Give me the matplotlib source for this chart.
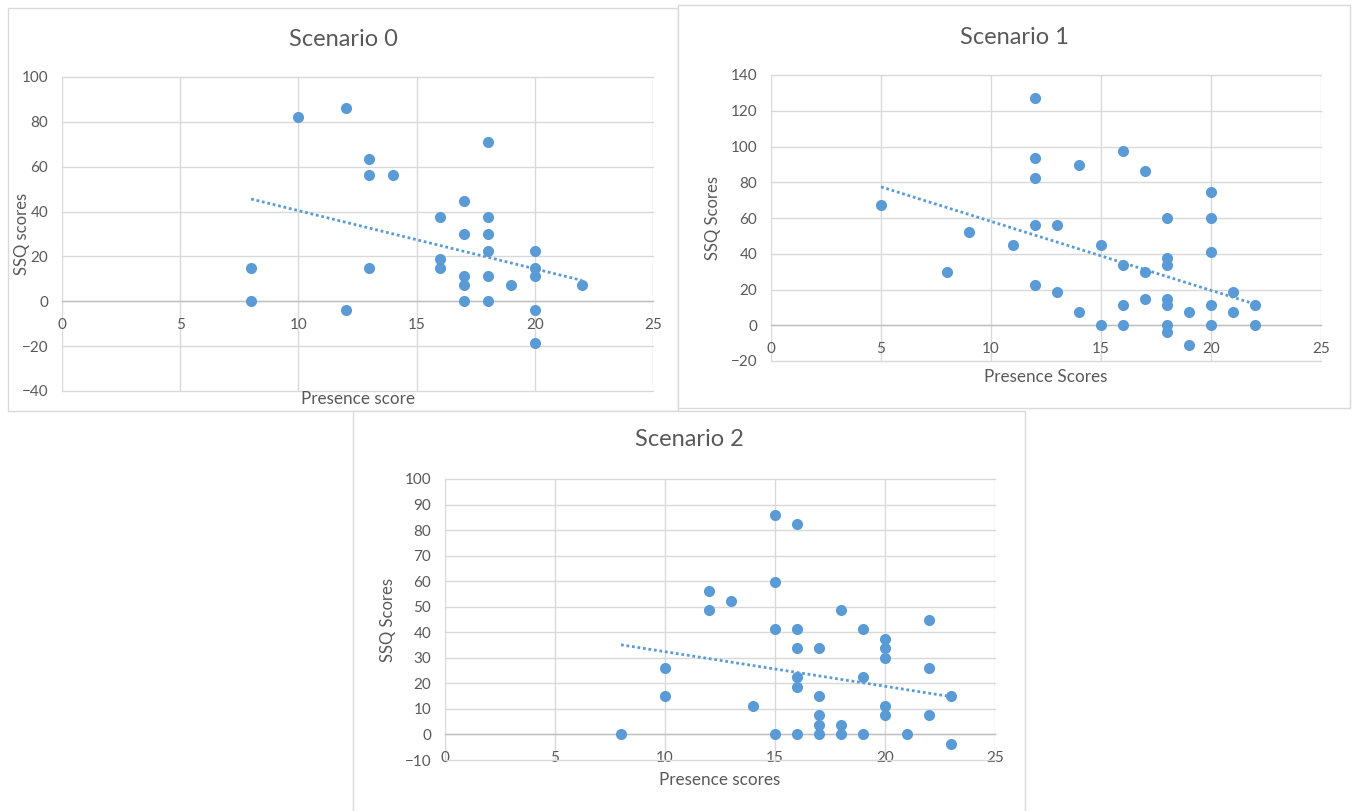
import numpy as np
import matplotlib
matplotlib.use("Agg")
import matplotlib.pyplot as plt
from matplotlib.patches import Rectangle

plt.rcParams['font.family'] = ['Lato', 'DejaVu Sans']

# ---------------- data ----------------
s0_x = [8, 8, 10, 12, 12, 13, 13, 13, 14, 16, 16, 16, 17, 17, 17, 17, 17,
        18, 18, 18, 18, 18, 18, 19, 20, 20, 20, 20, 20, 22]
s0_y = [14.96, 0, 82.28, 86.02, -3.74, 63.58, 56.1, 14.96, 56.1, 37.4, 18.7, 14.96,
        44.88, 29.92, 11.22, 7.48, 0, 71.06, 37.4, 29.92, 22.44, 11.22, 0, 7.48,
        22.44, 14.96, 11.22, -3.74, -18.7, 7.48]

s1_x = [5, 8, 9, 11, 12, 12, 12, 12, 12, 13, 13, 14, 14, 15, 15, 16, 16, 16, 16,
        17, 17, 17, 18, 18, 18, 18, 18, 18, 18, 19, 19, 20, 20, 20, 20, 20,
        21, 21, 22, 22]
s1_y = [67.32, 29.92, 52.36, 44.88, 127.16, 93.5, 82.28, 56.1, 22.44, 56.1, 18.7,
        89.76, 7.48, 44.88, 0, 97.24, 33.66, 11.22, 0, 86.02, 29.92, 14.96,
        59.84, 37.4, 33.66, 14.96, 11.22, 0, -3.74, 7.48, -11.22,
        74.8, 59.84, 41.14, 11.22, 0, 18.7, 7.48, 11.22, 0]

s2_x = [8, 10, 10, 12, 12, 13, 14, 15, 15, 15, 15, 16, 16, 16, 16, 16, 16,
        17, 17, 17, 17, 17, 18, 18, 18, 19, 19, 19, 20, 20, 20, 20, 20,
        21, 22, 22, 22, 23, 23]
s2_y = [0, 26.18, 14.96, 56.1, 48.62, 52.36, 11.22, 86.02, 59.84, 41.14, 0,
        82.28, 41.14, 33.66, 22.44, 18.7, 0, 33.66, 14.96, 7.48, 3.74, 0,
        48.62, 3.74, 0, 41.14, 22.44, 0, 37.4, 33.66, 29.92, 11.22, 7.48,
        0, 44.88, 26.18, 7.48, 14.96, -3.74]

# linear trend lines (start / end)
s0_trend_x = [8, 22]
s0_trend_y = [45.6, 9.3]
s1_trend_x = [5, 22]
s1_trend_y = [77.4, 11.8]
s2_trend_x = [8, 23]
s2_trend_y = [35.1, 14.8]

titles = ["Scenario 0", "Scenario 1", "Scenario 2"]
xlabels = ["Presence score", "Presence Scores", "Presence scores"]
ylabels = ["SSQ scores", "SSQ Scores", "SSQ Scores"]
x_ticks = [0, 5, 10, 15, 20, 25]
y_ticks = [list(range(-40, 101, 20)), list(range(-20, 141, 20)), list(range(-10, 101, 10))]

# ---------------- layout ----------------
W, H = 1357, 811
fig = plt.figure(figsize=(W / 100, H / 100), dpi=100)
fig.patch.set_facecolor('white')

def fx(px):
    return px / W

def fy(py):
    return 1 - py / H

# panel containers (left, top, right, bottom) in pixels
containers = [(8, 8, 678, 411), (678, 5, 1350, 408), (353, 411, 1025, 812)]
# plot areas (left, top, right, bottom) in pixels
plots = [(62, 77, 653, 391), (771, 75, 1321, 361), (445, 479, 995, 760)]
title_y = [40, 37, 439]
xlabel_y = [399, 377, 780]
ylabel_x = [22, 713, 388]

for (l, t, r, b) in containers:
    fig.patches.append(Rectangle((fx(l), fy(b)), fx(r) - fx(l), fy(t) - fy(b),
                                 transform=fig.transFigure, facecolor='white',
                                 edgecolor='#d9d9d9', linewidth=1.0, zorder=-5))

grey_text = '#595959'
blue = '#5b9bd5'
grid_c = '#d9d9d9'

data = [(s0_x, s0_y, s0_trend_x, s0_trend_y),
        (s1_x, s1_y, s1_trend_x, s1_trend_y),
        (s2_x, s2_y, s2_trend_x, s2_trend_y)]

for i, (xs, ys, tx, ty) in enumerate(data):
    l, t, r, b = plots[i]
    ax = fig.add_axes([fx(l), fy(b), fx(r) - fx(l), fy(t) - fy(b)])
    ax.set_zorder(2)
    ax.set_facecolor('none')
    yt = y_ticks[i]
    ax.set_xlim(x_ticks[0], x_ticks[-1])
    ax.set_ylim(yt[0], yt[-1])
    ax.set_xticks(x_ticks)
    ax.set_yticks(yt)
    ax.grid(True, color=grid_c, linewidth=1.0, zorder=0)
    for g in ax.get_xgridlines() + ax.get_ygridlines():
        g.set_clip_on(False)
    for s in ['left', 'right', 'top']:
        ax.spines[s].set_visible(False)
    ax.spines['bottom'].set_position(('data', 0))
    ax.spines['bottom'].set_color('#bfbfbf')
    ax.spines['bottom'].set_linewidth(1.0)
    ax.spines['bottom'].set_zorder(1)
    ax.tick_params(length=0, labelsize=11, labelcolor=grey_text)
    ax.tick_params(axis='x', pad=12)
    ax.tick_params(axis='y', pad=10)
    ax.set_axisbelow(True)

    ax.scatter(xs, ys, s=64, color=blue, zorder=3, linewidths=0, clip_on=False)

    ax.plot(tx, ty, linestyle=(0, (1, 1)), color=blue, linewidth=2.0, zorder=2)

    cl, ct, cr, cb = containers[i]
    fig.text(fx((cl + cr) / 2), fy(title_y[i]), titles[i], ha='center', va='center',
             fontsize=17, color=grey_text)
    fig.text(fx((l + r) / 2), fy(xlabel_y[i]), xlabels[i], ha='center', va='center',
             fontsize=12.3, color=grey_text)
    fig.text(fx(ylabel_x[i]), fy((t + b) / 2), ylabels[i], ha='center', va='center',
             rotation=90, fontsize=12, color=grey_text)

fig.savefig('out.png', dpi=100, facecolor='white')
